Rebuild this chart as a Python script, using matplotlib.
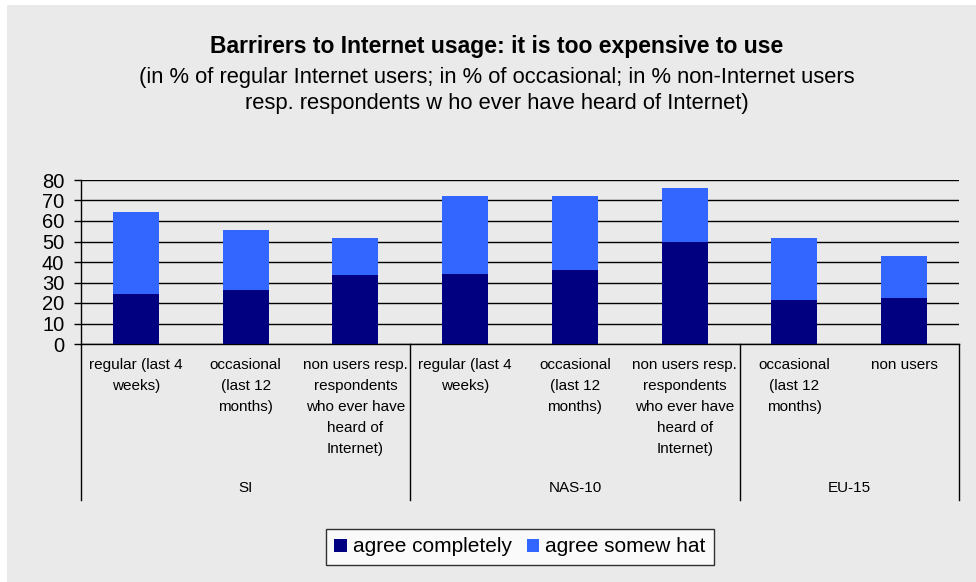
import matplotlib
matplotlib.use("Agg")
import matplotlib.pyplot as plt
from matplotlib.patches import Rectangle
import numpy as np

plt.rcParams['font.family'] = ['Liberation Sans', 'DejaVu Sans']

categories = ["regular (last 4\nweeks)", "occasional\n(last 12\nmonths)",
              "non users resp.\nrespondents\nwho ever have\nheard of\nInternet)",
              "regular (last 4\nweeks)", "occasional\n(last 12\nmonths)",
              "non users resp.\nrespondents\nwho ever have\nheard of\nInternet)",
              "occasional\n(last 12\nmonths)", "non users"]
groups = ["SI", "NAS-10", "EU-15"]
group_sizes = [3, 3, 2]
agree_completely = [24.5, 26.3, 33.7, 34.1, 36.1, 49.8, 21.5, 22.4]
agree_total = [64.4, 55.6, 51.7, 72.2, 72.2, 76.1, 51.7, 42.9]
agree_somewhat = [t - c for t, c in zip(agree_total, agree_completely)]
yticks = [0, 10, 20, 30, 40, 50, 60, 70, 80]

W, H = 976, 582
fig = plt.figure(figsize=(W / 100, H / 100), dpi=100, facecolor='white')
bg = '#EAEAEA'
fig.patches.append(Rectangle((7 / W, 0), 1 - 7 / W, 1 - 5 / H, transform=fig.transFigure,
                             facecolor=bg, edgecolor='none', zorder=-10))

x0, x1 = 81, 959
y0, y1 = 344, 180
ax = fig.add_axes([x0 / W, 1 - y0 / H, (x1 - x0) / W, (y0 - y1) / H])
ax.set_facecolor(bg)
ax.patch.set_alpha(0)

n = len(categories)
x = np.arange(n)
bw = 0.42
dark = '#000080'
light = '#3366FF'
ax.bar(x, agree_completely, bw, color=dark, zorder=3, label='agree completely')
ax.bar(x, agree_somewhat, bw, bottom=agree_completely, color=light, zorder=3, label='agree somew hat')

ax.set_xlim(-0.5, n - 0.5)
ax.set_ylim(0, 80)
ax.set_yticks(yticks)
ax.set_yticklabels([str(v) for v in yticks], fontsize=14.5)
ax.yaxis.grid(True, color='black', linewidth=1.0, zorder=0)
ax.set_axisbelow(True)
for s in ['top', 'right']:
    ax.spines[s].set_visible(False)
ax.spines['left'].set_linewidth(1.0)
ax.spines['bottom'].set_linewidth(1.0)
ax.tick_params(axis='y', length=5, width=1, pad=7)
ax.tick_params(axis='x', length=0)
ax.set_xticks([])

px_per_unit_y = (y0 - y1) / 80.0
def ydata_from_px(py):
    return (y0 - py) / px_per_unit_y

for i, lab in enumerate(categories):
    ax.text(i, ydata_from_px(358), lab, ha='center', va='top', fontsize=11,
            linespacing=1.64, clip_on=False)

start = 0
bounds = [0]
for g, sz in zip(groups, group_sizes):
    mid = start + sz / 2 - 0.5
    ax.text(mid, ydata_from_px(488), g, ha='center', va='center', fontsize=11, clip_on=False)
    start += sz
    bounds.append(start)
for b in bounds:
    ax.plot([b - 0.5, b - 0.5], [0, ydata_from_px(500)], color='black', lw=1.0,
            clip_on=False, zorder=4)

fig.text(497 / W, 1 - 47 / H, "Barrirers to Internet usage: it is too expensive to use",
         ha='center', va='center', fontsize=16.5, fontweight='bold')
fig.text(497 / W, 1 - 77 / H,
         "(in % of regular Internet users; in % of occasional; in % non-Internet users",
         ha='center', va='center', fontsize=15.8)
fig.text(497 / W, 1 - 103 / H,
         "resp. respondents w ho ever have heard of Internet)",
         ha='center', va='center', fontsize=15.8)

handles, labels = ax.get_legend_handles_labels()
leg = fig.legend(handles, labels, loc='center', bbox_to_anchor=(520 / W, 1 - 547 / H),
                 ncol=2, fontsize=15, frameon=True, fancybox=False, edgecolor='black',
                 facecolor='white', handlelength=0.6, handleheight=0.6, handletextpad=0.3,
                 columnspacing=0.7, borderpad=0.4)
leg.get_frame().set_linewidth(1.0)

fig.savefig('out.png', dpi=100, facecolor=fig.get_facecolor())
